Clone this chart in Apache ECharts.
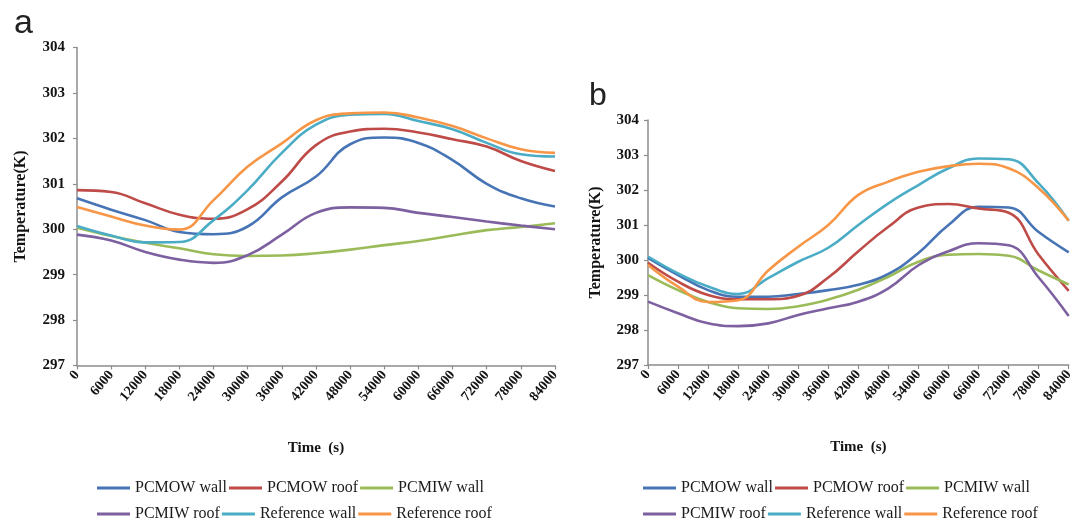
<!DOCTYPE html>
<html>
<head>
<meta charset="utf-8">
<script src="https://cdn.jsdelivr.net/npm/echarts@6/dist/echarts.min.js"></script>
<style>
  html, body { margin: 0; padding: 0; background: #fff; }
  #chart { width: 1076px; height: 526px; }
</style>
</head>
<body>
<div id="chart"></div>
<script>
// Time axis (s) and temperature axis (K)
const timeSteps = [0, 6000, 12000, 18000, 24000, 30000, 36000, 42000, 48000, 54000, 60000, 66000, 72000, 78000, 84000];
const tempTicks = [297, 298, 299, 300, 301, 302, 303, 304];

const seriesNames = ['PCMOW wall', 'PCMOW roof', 'PCMIW wall', 'PCMIW roof', 'Reference wall', 'Reference roof'];
const seriesColors = ['#4674B5', '#BE4B48', '#9BBB59', '#7D60A0', '#4BACC6', '#F79646'];

// Panel a: temperatures (K) at each time step
const aPcmowWall = [300.68, 300.43, 300.20, 299.94, 299.89, 300.06, 300.70, 301.16, 301.87, 302.02, 301.90, 301.52, 301.00, 300.68, 300.50];
const aPcmowRoof = [300.86, 300.82, 300.57, 300.32, 300.23, 300.44, 301.05, 301.85, 302.15, 302.21, 302.13, 301.98, 301.82, 301.50, 301.28];
const aPcmiwWall = [300.03, 299.85, 299.70, 299.58, 299.45, 299.41, 299.42, 299.47, 299.55, 299.65, 299.74, 299.86, 299.98, 300.05, 300.13];
const aPcmiwRoof = [299.88, 299.75, 299.50, 299.33, 299.26, 299.43, 299.88, 300.36, 300.48, 300.47, 300.36, 300.27, 300.17, 300.08, 300.00];
const aRefWall   = [300.07, 299.86, 299.71, 299.72, 300.20, 300.86, 301.68, 302.30, 302.52, 302.54, 302.38, 302.20, 301.90, 301.65, 301.60];
const aRefRoof   = [300.49, 300.28, 300.08, 299.99, 300.64, 301.38, 301.89, 302.40, 302.55, 302.57, 302.46, 302.27, 302.00, 301.76, 301.68];

// Panel b: temperatures (K) at each time step
const bPcmowWall = [300.06, 299.57, 299.14, 298.95, 298.95, 299.03, 299.14, 299.29, 299.60, 300.20, 301.00, 301.52, 301.50, 300.80, 300.22];
const bPcmowRoof = [299.92, 299.38, 299.00, 298.88, 298.88, 298.98, 299.50, 300.25, 300.95, 301.50, 301.60, 301.47, 301.35, 300.15, 299.12];
const bPcmiwWall = [299.57, 299.14, 298.80, 298.62, 298.60, 298.68, 298.87, 299.15, 299.52, 299.95, 300.15, 300.17, 300.12, 299.70, 299.30];
const bPcmiwRoof = [298.81, 298.48, 298.19, 298.11, 298.19, 298.43, 298.62, 298.81, 299.19, 299.85, 300.25, 300.48, 300.42, 299.50, 298.40];
const bRefWall   = [300.10, 299.62, 299.24, 299.03, 299.48, 299.95, 300.35, 301.00, 301.62, 302.14, 302.62, 302.90, 302.88, 302.19, 301.12];
const bRefRoof   = [299.86, 299.24, 298.80, 298.85, 299.70, 300.38, 301.00, 301.86, 302.24, 302.52, 302.68, 302.75, 302.62, 302.05, 301.12];

const panelA = [aPcmowWall, aPcmowRoof, aPcmiwWall, aPcmiwRoof, aRefWall, aRefRoof];
const panelB = [bPcmowWall, bPcmowRoof, bPcmiwWall, bPcmiwRoof, bRefWall, bRefRoof];

const SERIF = '"Liberation Serif", "Times New Roman", serif';
const SANS = '"Liberation Sans", Arial, sans-serif';
const AXIS_GRAY = '#8c8c8c';
const INK = '#141414';

function xAxisFor(gridIndex) {
  return {
    type: 'value', gridIndex,
    min: timeSteps[0], max: timeSteps[timeSteps.length - 1], interval: 6000,
    name: 'Time  (s)', nameLocation: 'middle', nameGap: 75,
    nameTextStyle: { fontFamily: SERIF, fontWeight: 'bold', fontSize: 15, color: INK },
    axisLine: { show: true, onZero: false, lineStyle: { color: AXIS_GRAY, width: 1.5 } },
    axisTick: { show: true, inside: false, length: 4, lineStyle: { color: AXIS_GRAY, width: 1.2 } },
    axisLabel: {
      rotate: 50, margin: 7, fontFamily: SERIF, fontWeight: 'bold', fontSize: 14, color: INK,
      formatter: (v) => String(v)
    },
    splitLine: { show: false }
  };
}

function yAxisFor(gridIndex, gap, margin) {
  return {
    type: 'value', gridIndex,
    min: tempTicks[0], max: tempTicks[tempTicks.length - 1], interval: 1,
    name: 'Temperature(K)', nameLocation: 'middle', nameGap: gap, nameRotate: 90,
    nameTextStyle: { fontFamily: SERIF, fontWeight: 'bold', fontSize: 16, color: INK },
    axisLine: { show: true, lineStyle: { color: AXIS_GRAY, width: 1.5 } },
    axisTick: { show: true, inside: false, length: 4, lineStyle: { color: AXIS_GRAY, width: 1.2 } },
    axisLabel: { margin, fontFamily: SERIF, fontWeight: 'bold', fontSize: 15, color: INK },
    splitLine: { show: false }
  };
}

function lineSeries(values, idx, axisIndex) {
  return {
    type: 'line', name: seriesNames[idx],
    xAxisIndex: axisIndex, yAxisIndex: axisIndex,
    data: timeSteps.map((t, i) => [t, values[i]]),
    smooth: 0.45, showSymbol: false, clip: true,
    lineStyle: { width: 2.6, color: seriesColors[idx] },
    itemStyle: { color: seriesColors[idx] },
    emphasis: { disabled: true }
  };
}

// Legend rows laid out as three fixed-width columns
const legendColumnWidths = [90, 98, 110];
function legendRow(names, left, top) {
  return {
    data: names.map((n, i) => ({ name: n, textStyle: { width: legendColumnWidths[i] } })),
    left, top, orient: 'horizontal', padding: 0,
    icon: 'rect', itemWidth: 33, itemHeight: 3, itemGap: 2,
    selectedMode: false,
    textStyle: { fontFamily: SERIF, fontSize: 16, color: '#1a1a1a' }
  };
}

const chart = echarts.init(document.getElementById('chart'), null, { renderer: 'canvas' });
chart.setOption({
  animation: false,
  backgroundColor: '#ffffff',
  title: [
    { text: 'a', left: 9, top: 2, textStyle: { fontFamily: SANS, fontWeight: 'normal', fontSize: 34, color: '#222' } },
    { text: 'b', left: 584, top: 75, textStyle: { fontFamily: SANS, fontWeight: 'normal', fontSize: 32, color: '#222' } }
  ],
  grid: [
    { left: 77, top: 47.5, width: 478, height: 318 },
    { left: 648, top: 120, width: 431, height: 245 }
  ],
  xAxis: [xAxisFor(0), xAxisFor(1)],
  yAxis: [yAxisFor(0, 48, 12), yAxisFor(1, 44, 9)],
  legend: [
    legendRow(seriesNames.slice(0, 3), 97, 480),
    legendRow(seriesNames.slice(3, 6), 97, 506),
    legendRow(seriesNames.slice(0, 3), 643, 480),
    legendRow(seriesNames.slice(3, 6), 643, 506)
  ],
  series: [
    ...panelA.map((v, i) => lineSeries(v, i, 0)),
    ...panelB.map((v, i) => lineSeries(v, i, 1))
  ]
});
</script>
</body>
</html>
